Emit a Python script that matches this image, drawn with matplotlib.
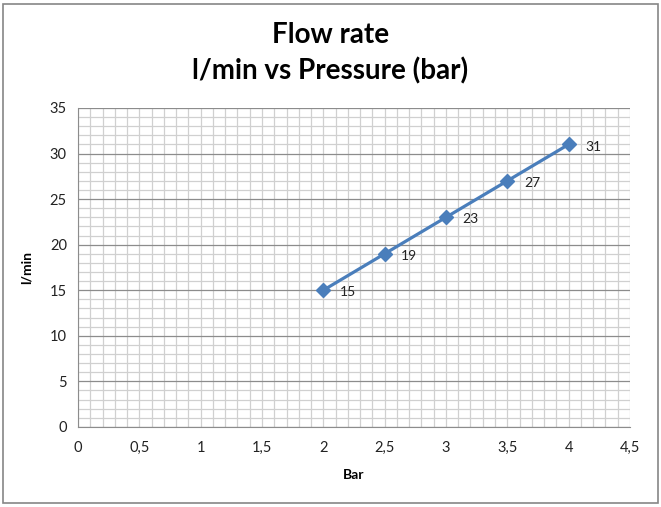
import matplotlib
matplotlib.use("Agg")
import matplotlib.pyplot as plt
from matplotlib.patches import Rectangle
import numpy as np

# расход воды от давления
pressure = [2, 2.5, 3, 3.5, 4]
flow = [15, 19, 23, 27, 31]
x_ticks = [0, 0.5, 1, 1.5, 2, 2.5, 3, 3.5, 4, 4.5]
x_labels = ["0", "0,5", "1", "1,5", "2", "2,5", "3", "3,5", "4", "4,5"]
y_ticks = [0, 5, 10, 15, 20, 25, 30, 35]

plt.rcParams['font.family'] = ['Lato', 'DejaVu Sans']

fig = plt.figure(figsize=(6.61, 5.07), dpi=100)
fig.patches.append(Rectangle((0.005, 0.007), 0.99, 0.986, transform=fig.transFigure,
                             fill=False, edgecolor='#868686', linewidth=1.2))
ax = fig.add_axes([0.118, 0.158, 0.835, 0.629])

ax.plot(pressure, flow, color='#4a7ebb', linewidth=2.3, marker='D', markersize=7,
        markerfacecolor='#4a7ebb', markeredgecolor='#4a7ebb', zorder=3)
for x, y in zip(pressure, flow):
    ax.annotate(str(y), (x, y), xytext=(12, -1.5), textcoords='offset points',
                fontsize=10, color='#222222', va='center')

ax.set_xlim(0, 4.5)
ax.set_ylim(0, 35)
ax.set_xticks(x_ticks)
ax.set_xticklabels(x_labels)
ax.set_yticks(y_ticks)
ax.set_xticks(np.arange(0, 4.51, 0.1), minor=True)
ax.set_yticks(np.arange(0, 35.1, 1), minor=True)
ax.grid(which='minor', color='#d0d0d0', linewidth=0.9)
ax.grid(which='major', axis='x', color='#d0d0d0', linewidth=0.9)
ax.grid(which='major', axis='y', color='#8c8c8c', linewidth=0.9)
ax.set_axisbelow(True)
ax.tick_params(which='both', length=0, labelsize=10.5, colors='#222222')
ax.tick_params(axis='x', pad=10)
ax.tick_params(axis='y', pad=8)
for side in ['top', 'right']:
    ax.spines[side].set_visible(False)
ax.spines['left'].set_color('#8c8c8c')
ax.spines['bottom'].set_color('#8c8c8c')

ax.set_xlabel("Bar", fontsize=10, fontweight='bold', labelpad=10)
ax.set_ylabel("l/min", fontsize=10, fontweight='bold', labelpad=12)
fig.text(0.5, 0.895, "Flow rate\nl/min vs Pressure (bar)", ha='center', va='center',
         fontsize=20, fontweight='bold', linespacing=1.4)

fig.savefig("out.png", dpi=100)
